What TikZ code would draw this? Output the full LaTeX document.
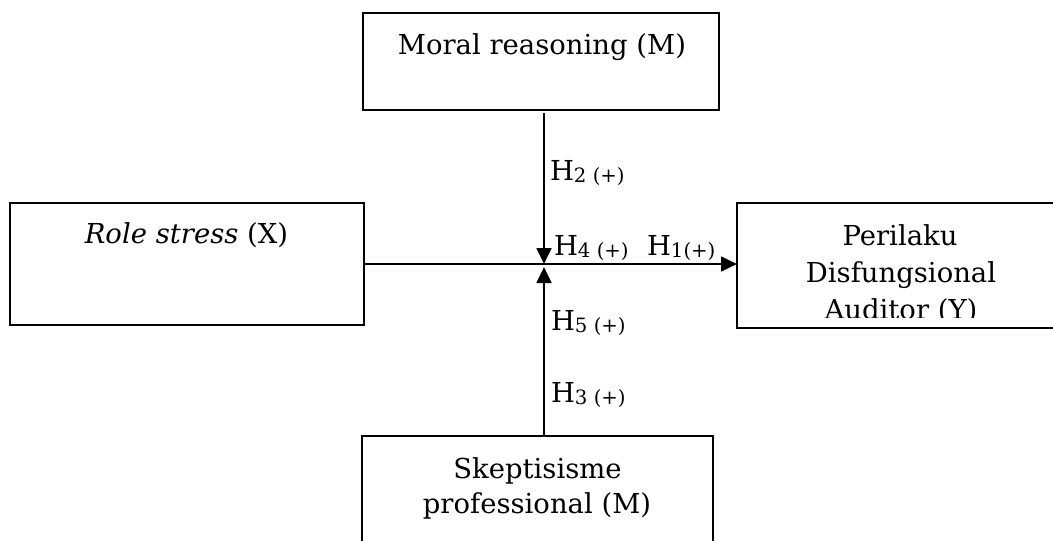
\documentclass[tikz,border=0pt]{standalone}
\usepackage{fontspec}
\setmainfont{DejaVu Serif}
\usetikzlibrary{arrows.meta}
\newcommand{\mainsize}{\fontsize{20.6pt}{26pt}\selectfont}
\newcommand{\hyp}[1]{H\raisebox{-1.5pt}{\fontsize{14.8pt}{16pt}\selectfont #1}}
\tikzset{
  box/.style={draw, rectangle, line width=1.5pt, inner sep=0pt, outer sep=0pt},
  txt/.style={inner sep=0pt, outer sep=0pt, font=\mainsize, anchor=base},
  lbl/.style={inner sep=0pt, outer sep=0pt, font=\mainsize, anchor=base west},
  conn/.style={line width=2.1pt},
  arr/.style={conn, -{Triangle[length=12pt,width=11pt]}}
}
\begin{document}
\begin{tikzpicture}[x=0.75pt, y=-0.75pt]
\useasboundingbox (0,0) rectangle (1053,540);
\fill[white] (0,0) rectangle (1053,540);
% boxes
\node[box, minimum width=267pt, minimum height=72.75pt] (M) at (541,61.5) {};
\node[box, minimum width=265.5pt, minimum height=91.5pt] (X) at (187,264) {};
\node[box, minimum width=242.25pt, minimum height=93.75pt] (Y) at (898.5,265.5) {};
\node[box, minimum width=263.25pt, minimum height=93pt] (S) at (537.5,498) {};
% box texts
\node[txt] (Mt) at (542,54) {Moral reasoning (M)};
\node[txt] (Xt) at (186.5,243) {\textit{Role stress} (X)};
\node[txt] (Yt1) at (900,245) {Perilaku};
\node[txt] (Yt2) at (901,282) {Disfungsional};
\begin{scope}
  \clip (737,290) rectangle (1053,317);
  \node[txt] (Yt3) at (901,319) {Auditor (Y)};
\end{scope}
\node[txt] (St1) at (537.5,478) {Skeptisisme};
\node[txt] (St2) at (537,513) {professional (M)};
% junction
\coordinate (J) at (544,264);
\coordinate (Jb) at (544,267);
% connectors
\draw[arr] (X.east) -- (Y.west |- X.east);
\draw[arr, shorten <=2.5pt] (M.south -| J) -- (J);
\draw[arr] (S.north -| J) -- (Jb);
% labels
\node[lbl] (H2) at (550,180) {\hyp{2 (+)}};
\node[lbl] (H4) at (554,255) {\hyp{4 (+)}};
\node[lbl] (H1) at (647,255) {\hyp{1(+)}};
\node[lbl] (H5) at (551,330) {\hyp{5 (+)}};
\node[lbl] (H3) at (551,402) {\hyp{3 (+)}};
\end{tikzpicture}
\end{document}
